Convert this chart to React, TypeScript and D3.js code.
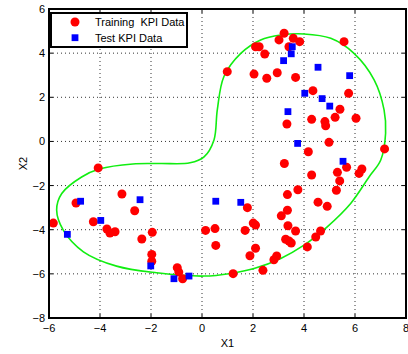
import React from "react";
import * as d3 from "d3";

// training samples
const trainX = [-4.07, 3.22, 2.1, 2.24, 2.46, 3.02, 3.58, 3.83, 3.41, 5.57, 0.99, 2.04, 2.54, 2.95, 3.67, 4.35, 5.75, 5.41, 5.22, 6.04, 4.3, 4.82, 4.85, 3.33, 4.98, 4.17, 7.16, 3.23, 4.3, 5.31, 5.67, 6.16, 6.27,
  -5.83, -4.94, -4.26, -3.73, -3.61, -3.41, -3.14, -2.64, -2.36, -1.95, -1.97, -1.97, -0.97, -0.91, -0.76,
  0.14, 0.51, 0.54, 1.78, 2.01, 2.1, 1.69, 2.1, 1.88, 1.22, 2.39, 2.82, 2.93, 3.11, 3.35, 3.35, 3.76, 3.37, 3.67, 3.28, 3.41, 3.5, 4.13, 4.46, 4.65, 4.55, 4.91, 5.27, 5.4];
const trainY = [-1.2, 4.9, 4.29, 4.29, 3.96, 4.6, 4.67, 4.52, 4.29, 4.52, 3.16, 3.05, 2.86, 3.11, 2.9, 2.3, 2.18, 1.46, 1.09, 1.05, 1.0, 0.9, 0.71, 0.79, -0.04, -0.47, -0.34, -1.0, -1.52, -1.4, -1.17, -1.45, -1.25,
  -3.7, -2.79, -3.64, -3.97, -4.15, -4.09, -2.38, -3.14, -4.42, -4.12, -5.12, -5.43, -5.72, -5.92, -6.22,
  -4.03, -3.95, -4.71, -3.0, -3.7, -3.79, -4.03, -4.84, -5.18, -5.99, -5.84, -5.36, -5.19, -3.37, -3.12, -2.41, -2.19, -3.82, -4.06, -4.43, -4.51, -4.6, -4.78, -4.33, -4.06, -2.75, -2.94, -2.21, -1.79];

// test samples
const testX = [3.54, 3.5, 3.2, 4.55, 5.79, 4.03, 4.71, 5.01, 3.37, 3.75, 5.53, -4.76, -5.28, -3.97, -2.43, -2.01, -1.1, -0.51, 0.54, 1.52];
const testY = [4.29, 3.97, 3.66, 3.36, 2.98, 2.18, 1.94, 1.6, 1.35, -0.09, -0.9, -2.71, -4.21, -3.58, -2.64, -5.64, -6.22, -6.1, -2.71, -2.76];

// decision boundary
const boundX = [-4.72, -4.0, -2.71, -1.65, -0.47, 0.08, 0.47, 0.6, 0.86, 1.52, 2.3, 3.09, 4.0, 5.05, 5.96, 6.75, 7.14, 7.2, 7.01, 6.55, 5.83, 4.91, 4.0, 3.09, 2.04, 1.13, 0.08, -1.78, -3.35, -4.65, -5.44, -5.7, -5.5];
const boundY = [-1.61, -1.24, -1.02, -1.0, -0.97, -0.7, 0.07, 1.43, 2.94, 3.99, 4.6, 4.82, 4.87, 4.67, 3.99, 2.79, 1.43, 0.37, -0.84, -1.61, -2.81, -3.87, -4.7, -5.3, -5.76, -5.98, -6.1, -5.95, -5.65, -5.0, -4.02, -3.11, -2.36];

const xTicks = [-6, -4, -2, 0, 2, 4, 6, 8];
const yTicks = [-8, -6, -4, -2, 0, 2, 4, 6];

const fmt = (t: number) => (t < 0 ? "\u2212" + Math.abs(t) : String(t));

export default function App() {
  const W = 408, H = 354;
  const left = 49, right = 406, top = 9, bottom = 318;
  const x = d3.scaleLinear().domain([-6, 8]).range([left, right]);
  const y = d3.scaleLinear().domain([-8, 6]).range([bottom, top]);
  const font = "Liberation Sans, Arial, sans-serif";

  const boundary = d3.line<number>()
    .x(i => x(boundX[i]))
    .y(i => y(boundY[i]))
    .curve(d3.curveCatmullRomClosed)(boundX.map((_, i) => i));

  return (
    <svg width={W} height={H} style={{ position: "absolute", left: 0, top: 0 }} fontFamily={font}>
      <rect width={W} height={H} fill="#fff" />
      {/* grid */}
      {xTicks.slice(1, -1).map(t =>
        <line key={"gx" + t} x1={x(t)} x2={x(t)} y1={top} y2={bottom} stroke="#333" strokeWidth={1} strokeDasharray="1,3" />
      )}
      {yTicks.slice(1, -1).map(t =>
        <line key={"gy" + t} x1={left} x2={right} y1={y(t)} y2={y(t)} stroke="#333" strokeWidth={1} strokeDasharray="1,3" />
      )}
      {/* ticks */}
      {xTicks.map(t => <g key={"tx" + t}>
        <line x1={x(t)} x2={x(t)} y1={bottom} y2={bottom - 4} stroke="#000" />
        <line x1={x(t)} x2={x(t)} y1={top} y2={top + 4} stroke="#000" />
        <text x={x(t)} y={332} fontSize={11} textAnchor="middle">{fmt(t)}</text>
      </g>)}
      {yTicks.map(t => <g key={"ty" + t}>
        <line x1={left} x2={left + 4} y1={y(t)} y2={y(t)} stroke="#000" />
        <line x1={right} x2={right - 4} y1={y(t)} y2={y(t)} stroke="#000" />
        <text x={45} y={y(t) + 4} fontSize={11} textAnchor="end">{fmt(t)}</text>
      </g>)}

      <path d={boundary ?? ""} fill="none" stroke="#11ee11" strokeWidth={1.6} />

      {trainX.map((v, i) =>
        <circle key={"r" + i} cx={x(v)} cy={y(trainY[i])} r={4.5} fill="#ff0000" />
      )}
      {testX.map((v, i) =>
        <rect key={"b" + i} x={x(v) - 3.4} y={y(testY[i]) - 3.4} width={6.8} height={6.8} fill="#0000ff" />
      )}

      <rect x={left} y={top} width={right - left} height={bottom - top} fill="none" stroke="#000" strokeWidth={2} />

      {/* legend */}
      <rect x={51} y={13} width={136} height={34} fill="#fff" stroke="#000" strokeWidth={2} />
      <circle cx={75} cy={22} r={4.5} fill="#ff0000" />
      <text x={95} y={26} fontSize={11} style={{ whiteSpace: "pre" }}>Training  KPI Data</text>
      <rect x={71.6} y={34.3} width={6.8} height={6.8} fill="#0000ff" />
      <text x={95} y={42} fontSize={11}>Test KPI Data</text>

      <text x={(left + right) / 2} y={347} fontSize={11} textAnchor="middle">X1</text>
      <text transform={`translate(27,${(top + bottom) / 2}) rotate(-90)`} fontSize={11} textAnchor="middle">X2</text>
    </svg>
  );
}
